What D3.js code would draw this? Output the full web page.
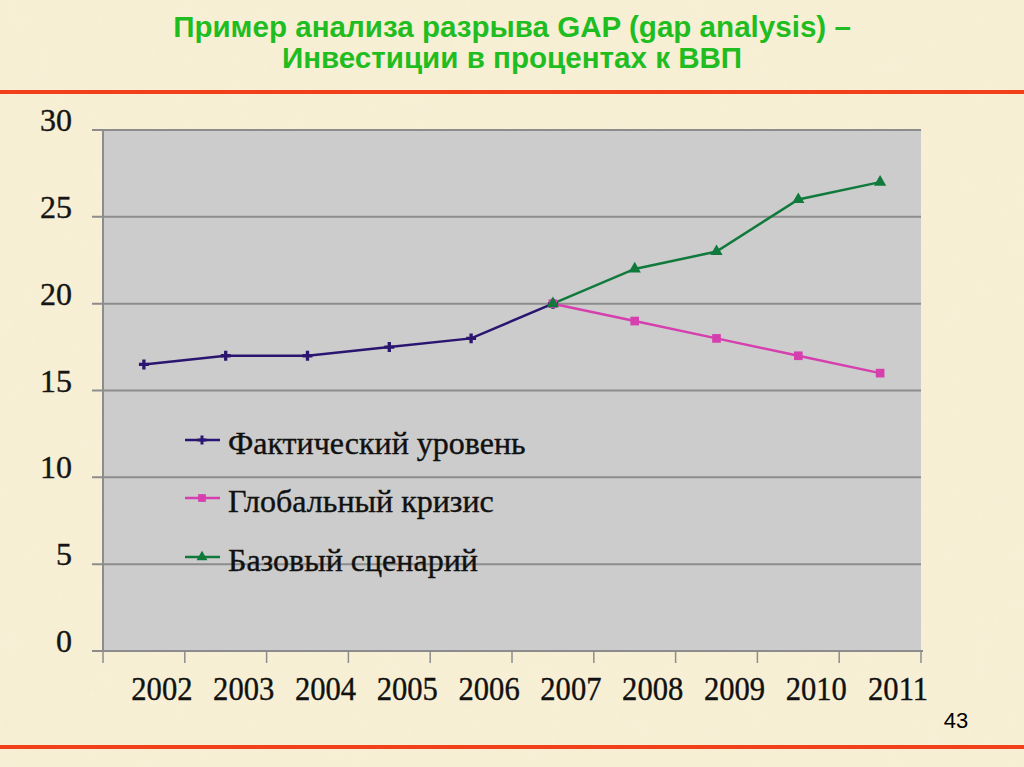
<!DOCTYPE html>
<html><head><meta charset="utf-8">
<script src="https://cdn.jsdelivr.net/npm/d3@7"></script>
<style>html,body{margin:0;padding:0;background:#f7efd4;}svg{display:block;}</style>
</head><body>
<svg id="c" width="1024" height="767"></svg>
<script>
const years = ["2002","2003","2004","2005","2006","2007","2008","2009","2010","2011"];
const actualYears = ["2002","2003","2004","2005","2006","2007"];
const actualValues = [16.5, 17, 17, 17.5, 18, 20];
const scenarioYears = ["2007","2008","2009","2010","2011"];
const crisisValues = [20, 19, 18, 17, 16];
const baseValues = [20, 22, 23, 26, 27];
const yTicks = [0, 5, 10, 15, 20, 25, 30];
const seriesNames = ["Фактический уровень", "Глобальный кризис", "Базовый сценарий"];
const titleLines = ["Пример анализа разрыва GAP (gap analysis) –", "Инвестиции в процентах к ВВП"];
const pageNumber = "43";

(function(){
const svg = d3.select("#c");
const defs = svg.append("defs");
const f = defs.append("filter").attr("id","paper");
f.append("feTurbulence").attr("type","fractalNoise").attr("baseFrequency","0.035").attr("numOctaves","3").attr("seed","4");
f.append("feColorMatrix").attr("type","matrix").attr("values","0 0 0 0 0.85  0 0 0 0 0.78  0 0 0 0 0.55  0 0 0 0.25 0");
svg.append("rect").attr("width",1024).attr("height",767).attr("fill","#f8f0d6");
svg.append("rect").attr("width",1024).attr("height",767).attr("filter","url(#paper)").attr("opacity",0.6);

svg.selectAll("text.title").data(titleLines).join("text")
  .attr("class","title").attr("x",512).attr("y",(d,i)=>37+i*31)
  .attr("text-anchor","middle").attr("font-family","Liberation Sans, Arial, sans-serif")
  .attr("font-weight","bold").attr("font-size",29).attr("fill","#1fbd1f")
  .attr("transform","translate(512,0) scale(1.02,1) translate(-512,0)")
  .text(d=>d);
svg.append("rect").attr("x",0).attr("y",90).attr("width",1024).attr("height",4).attr("fill","#f2401a");
svg.append("rect").attr("x",0).attr("y",745).attr("width",1024).attr("height",4).attr("fill","#f2401a");
svg.append("text").attr("x",956).attr("y",728).attr("text-anchor","middle")
  .attr("font-family","Liberation Sans, Arial, sans-serif").attr("font-size",22).attr("fill","#000").text(pageNumber);

const pl = 103, pr = 921, pt = 130, pb = 651;
const x = d3.scaleBand().domain(years).range([pl, pr]);
const y = d3.scaleLinear().domain([0, 30]).range([pb, pt]);

svg.append("rect").attr("x",pl).attr("y",pt).attr("width",pr-pl).attr("height",pb-pt).attr("fill","#cccccc");

svg.append("g").selectAll("line").data(yTicks).join("line")
  .attr("x1",92).attr("x2",pr).attr("y1",d=>y(d)).attr("y2",d=>y(d))
  .attr("stroke","#8c8c8c").attr("stroke-width",2);
svg.append("line").attr("x1",pl).attr("x2",pl).attr("y1",pt).attr("y2",pb)
  .attr("stroke","#8c8c8c").attr("stroke-width",2);

svg.append("g").selectAll("text").data(yTicks).join("text")
  .attr("x",72).attr("y",d=>y(d)+1).attr("text-anchor","end")
  .attr("font-family","Liberation Serif, Times New Roman, serif").attr("font-size",32).attr("fill","#151515")
  .attr("stroke","#151515").attr("stroke-width",0.4)
  .text(d=>d);

const xAxis = d3.axisBottom(x).tickSize(0).tickFormat("");
const gx = svg.append("g").attr("transform",`translate(0,${pb})`).call(xAxis);
gx.select(".domain").attr("stroke","#8c8c8c").attr("stroke-width",2).attr("d",`M${92},0H${pr+2}`);
const boundaries = years.map(d=>x(d)).concat([x(years[years.length-1])+x.bandwidth()]);
gx.selectAll("line.b").data(boundaries).join("line").attr("class","b")
  .attr("x1",d=>d).attr("x2",d=>d).attr("y1",0).attr("y2",12).attr("stroke","#8c8c8c").attr("stroke-width",1.5);
const lx = d=>x(d)+x.bandwidth()/2+18;
svg.append("g").selectAll("text").data(years).join("text")
  .attr("x",d=>lx(d)).attr("y",700).attr("text-anchor","middle")
  .attr("font-family","Liberation Serif, Times New Roman, serif").attr("font-size",34).attr("fill","#111")
  .attr("stroke","#111").attr("stroke-width",0.4)
  .attr("transform",d=>`translate(${lx(d)},0) scale(0.9,1) translate(${-lx(d)},0)`)
  .text(d=>d);

const cx = d=>x(d)+x.bandwidth()/2;
const colors = ["#2a1670","#d63fae","#107a3c"];
const line = d3.line().x(d=>cx(d[0])).y(d=>y(d[1]));
const actual = actualYears.map((d,i)=>[d,actualValues[i]]);
const crisis = scenarioYears.map((d,i)=>[d,crisisValues[i]]);
const base = scenarioYears.map((d,i)=>[d,baseValues[i]]);

svg.append("path").datum(actual).attr("d",line).attr("fill","none").attr("stroke",colors[0]).attr("stroke-width",2.5);
svg.append("path").datum(crisis).attr("d",line).attr("fill","none").attr("stroke",colors[1]).attr("stroke-width",2.5);
svg.append("path").datum(base).attr("d",line).attr("fill","none").attr("stroke",colors[2]).attr("stroke-width",2.5);

const sym = [d3.symbolCross, d3.symbolSquare, d3.symbolTriangle];
const sizes = [55, 75, 65];
[[actual,0],[crisis,1],[base,2]].forEach(([data,k])=>{
  svg.append("g").selectAll("path").data(data).join("path")
    .attr("transform",d=>`translate(${cx(d[0])},${y(d[1])})`)
    .attr("d",d3.symbol(sym[k],sizes[k])).attr("fill",colors[k]);
});

const legLineY = [440, 498, 557];
const legTextY = [454, 512, 571];
const lg = svg.append("g");
seriesNames.forEach((n,i)=>{
  lg.append("line").attr("x1",185).attr("x2",220).attr("y1",legLineY[i]).attr("y2",legLineY[i])
    .attr("stroke",colors[i]).attr("stroke-width",2.5);
  lg.append("path").attr("transform",`translate(202,${legLineY[i]})`).attr("d",d3.symbol(sym[i],sizes[i]*0.8)).attr("fill",colors[i]);
  lg.append("text").attr("x",228).attr("y",legTextY[i])
    .attr("font-family","Liberation Serif, Times New Roman, serif").attr("font-size",32).attr("fill","#111")
    .attr("stroke","#111").attr("stroke-width",0.4).text(n);
});
})();
</script>
</body></html>
